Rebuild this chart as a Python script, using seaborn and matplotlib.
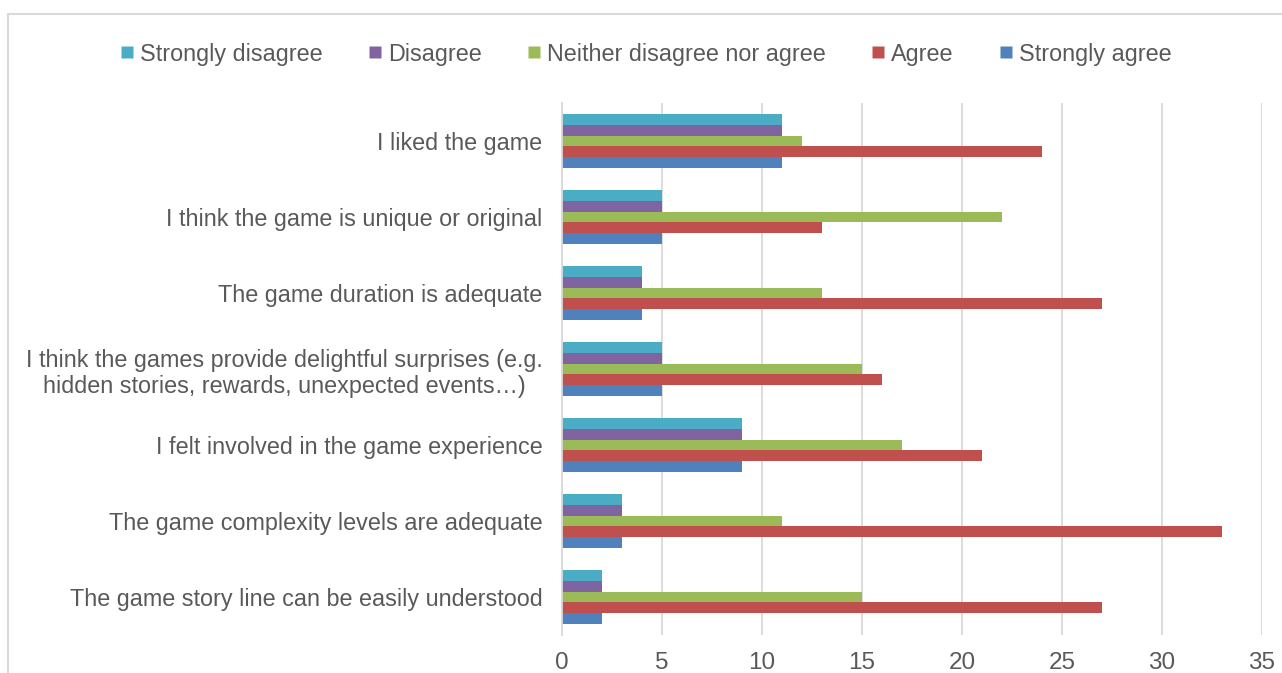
import matplotlib
matplotlib.use("Agg")
import matplotlib.pyplot as plt
from matplotlib.lines import Line2D
import pandas as pd
import seaborn as sns

statements = [
    "I liked the game",
    "I think the game is unique or original",
    "The game duration is adequate",
    "I think the games provide delightful surprises (e.g.\nhidden stories, rewards, unexpected events\u2026)",
    "I felt involved in the game experience",
    "The game complexity levels are adequate",
    "The game story line can be easily understood",
]
responses = ["Strongly disagree", "Disagree", "Neither disagree nor agree",
             "Agree", "Strongly agree"]
strongly_disagree = [11, 5, 4, 5, 9, 3, 2]
disagree = [11, 5, 4, 5, 9, 3, 2]
neither = [12, 22, 13, 15, 17, 11, 15]
agree = [24, 13, 27, 16, 21, 33, 27]
strongly_agree = [11, 5, 4, 5, 9, 3, 2]
x_ticks = [0, 5, 10, 15, 20, 25, 30, 35]

colors = ["#4BACC6", "#8064A2", "#9BBB59", "#C0504D", "#4F81BD"]
text_color = "#595959"
grid_color = "#D9D9D9"

series = [strongly_disagree, disagree, neither, agree, strongly_agree]
rows = []
for resp, vals in zip(responses, series):
    for stmt, v in zip(statements, vals):
        rows.append({"Statement": stmt, "Response": resp, "Count": v})
df = pd.DataFrame(rows)

sns.set_theme(style="white")
plt.rcParams["font.family"] = ["Liberation Sans", "DejaVu Sans"]

W, H = 1282, 673
fig = plt.figure(figsize=(W / 100, H / 100), dpi=100)
ax = fig.add_axes([562 / W, 1 - 635 / H, (1262 - 562) / W, (635 - 103) / H])

sns.barplot(data=df, y="Statement", x="Count", hue="Response",
            order=statements, hue_order=responses, palette=colors,
            orient="h", width=0.72, saturation=1, errorbar=None,
            edgecolor="none", linewidth=0, legend=False, ax=ax)

ax.set_xlim(0, 35)
ax.set_xticks(x_ticks)
ax.set_xticklabels([str(t) for t in x_ticks], fontsize=17.5, color=text_color)
ax.tick_params(axis="x", length=0, pad=12)
ax.tick_params(axis="y", length=0, pad=14, labelsize=16.8, labelcolor=text_color)
for lbl in ax.get_yticklabels():
    lbl.set_multialignment("center")
ax.set_xlabel("")
ax.set_ylabel("")
ax.xaxis.grid(True, color=grid_color, linewidth=1.3)
ax.yaxis.grid(False)
ax.set_axisbelow(True)
for side in ["top", "right", "bottom"]:
    ax.spines[side].set_visible(False)
ax.spines["left"].set_color(grid_color)
ax.spines["left"].set_linewidth(1.3)

handles = [Line2D([0], [0], marker="s", linestyle="none", markersize=8.6,
                  markerfacecolor=c, markeredgecolor="none") for c in colors]
leg = fig.legend(handles, responses, loc="center", bbox_to_anchor=(646 / W, 1 - 54 / H),
                 ncol=5, frameon=False, fontsize=16.8, handlelength=0.6,
                 handletextpad=0.25, columnspacing=1.95, borderpad=0)
for t in leg.get_texts():
    t.set_color(text_color)

# outer chart frame (top and left edges)
fig.add_artist(Line2D([8 / W, 1], [1 - 14 / H, 1 - 14 / H], color=grid_color,
                      linewidth=1.5, transform=fig.transFigure))
fig.add_artist(Line2D([8 / W, 8 / W], [0, 1 - 14 / H], color=grid_color,
                      linewidth=1.5, transform=fig.transFigure))

fig.savefig("out.png", dpi=100, facecolor="white")
